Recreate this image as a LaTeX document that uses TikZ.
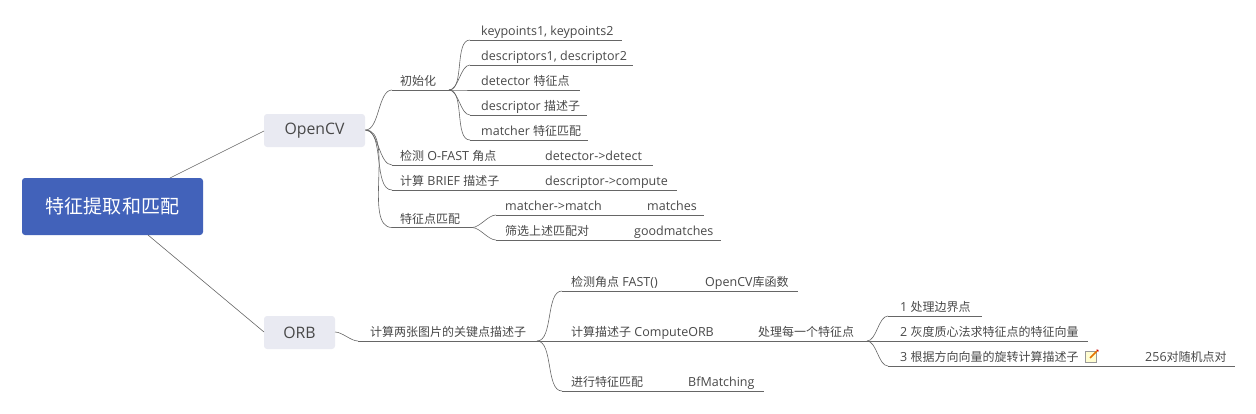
\documentclass[tikz,border=0pt]{standalone}
\usepackage{fontspec}
\setmainfont{Open Sans}
\newfontfamily\cjk[Scale=0.96]{Noto Sans CJK SC}
\newcommand{\C}[1]{{\cjk #1}}
\definecolor{rootblue}{HTML}{4262BA}
\definecolor{boxgrey}{HTML}{E9EAF2}
\definecolor{linegrey}{HTML}{666666}
\definecolor{textgrey}{HTML}{484848}
\tikzset{
  conn/.style={draw=linegrey,line width=.6pt},
  curved/.style={conn,out=0,in=180,looseness=.75},
  lbl/.style={anchor=base west,inner sep=0pt,text=textgrey,font=\fontsize{12.5}{14}\selectfont},
  rootbox/.style={fill=rootblue,rounded corners=3pt,text=white,inner sep=0pt,align=center,font=\fontsize{19.8}{23}\selectfont},
  mainbox/.style={fill=boxgrey,rounded corners=3pt,text=textgrey,inner sep=0pt,align=center,font=\fontsize{15.8}{18}\selectfont},
}
% name, line start x, line end x, line y, text x, text
\newcommand{\topic}[6]{%
  \coordinate (#1-s) at (#2,#4);
  \coordinate (#1-e) at (#3,#4);
  \node[lbl] (#1) at (#5,#4-4.5) {#6};
  \draw[conn] (#1-s) -- (#1-e);
}
\newcommand{\boxnode}[7]{%
  \node[#2,minimum width=#5-#3,minimum height=#6-#4] (#1) at ({(#3+#5)/2},{(#4+#6)/2}) {#7};
}
\begin{document}
\begin{tikzpicture}[x=1pt,y=-1pt]
\useasboundingbox (0,0) rectangle (1256,413);
\boxnode{root}{rootbox}{22}{178}{203}{235}{\raisebox{-1pt}{\C{特征提取和匹配}}}
\boxnode{opencv}{mainbox}{264}{114}{365}{147}{\raisebox{0pt}{OpenCV}}
\boxnode{orb}{mainbox}{264}{316}{335}{349}{ORB}
\coordinate (rootA) at (170,178);
\coordinate (rootB) at (148,235);
\coordinate (cvIn) at (264,131);
\coordinate (orbIn) at (264,332);
\coordinate (cvOut) at (365.5,130);
\coordinate (orbOut) at (335,332);
\draw[conn] (rootA) -- (cvIn);
\draw[conn] (rootB) -- (orbIn);

\topic{init}{392}{449}{90}{400}{\C{初始化}}
\topic{k}{470}{622}{40}{481}{keypoints1, keypoints2}
\topic{d}{470}{633}{65}{481}{descriptors1, descriptor2}
\topic{det}{470}{580}{90}{481}{detector \C{特征点}}
\topic{des}{470}{587}{115}{481}{descriptor \C{描述子}}
\topic{mat}{470}{588}{140}{481}{matcher \C{特征匹配}}
\topic{fast}{392}{653}{165}{400}{\C{检测} O-FAST \C{角点}}
\node[lbl] (fast2) at (545,160.5) {detector->detect};
\topic{brief}{392}{677}{190}{400}{\C{计算} BRIEF \C{描述子}}
\node[lbl] (brief2) at (545,185.5) {descriptor->compute};
\topic{fm}{392}{472}{227.5}{400}{\C{特征点匹配}}
\topic{mm}{496}{704}{215}{505}{matcher->match}
\node[lbl] (mm2) at (647,210.5) {matches};
\topic{gm}{496}{721}{240}{505}{\C{筛选上述匹配对}}
\node[lbl] (gm2) at (634,235.5) {goodmatches};

\foreach \t in {init,fast,brief,fm} \draw[curved] (cvOut) to (\t-s);
\foreach \t in {k,d,det,des,mat} \draw[curved] (init-e) to (\t-s);
\foreach \t in {mm,gm} \draw[curved] (fm-e) to (\t-s);

\topic{two}{358}{537}{341}{370}{\C{计算两张图片的关键点描述子}}
\draw[curved] (orbOut) to (two-s);
\topic{f}{562}{798}{291}{571}{\C{检测角点} FAST()}
\node[lbl] (f2) at (705,286.5) {OpenCV\C{库函数}};
\topic{c}{537}{867}{341}{571}{\C{计算描述子} ComputeORB}
\node[lbl] (c2) at (758,336.5) {\C{处理每一个特征点}};
\topic{b}{562}{764}{391}{571}{\C{进行特征匹配}}
\node[lbl] (b2) at (688,386.5) {BfMatching};
\draw[curved] (two-e) to (f-s);
\draw[curved] (two-e) to (b-s);
\topic{p1}{888}{982}{316}{900}{1 \C{处理边界点}}
\topic{p2}{867}{1088}{341}{900}{2 \C{灰度质心法求特征点的特征向量}}
\topic{p3}{888}{1235}{366}{900}{3 \C{根据方向向量的旋转计算描述子}}
\node[lbl] (p32) at (1145,361.5) {256\C{对随机点对}};
\draw[curved] (c-e) to (p1-s);
\draw[curved] (c-e) to (p3-s);

% note icon
\draw[draw=black!40,fill=yellow!18,line width=.5pt] (1085.5,351) rectangle (1096.5,362);
\draw[draw=orange!90!black,line width=1.6pt] (1090,358) -- (1097,351);
\fill[red!80!black] (1096.3,349.6) -- (1098.6,349.8) -- (1098.2,352) -- cycle;
\end{tikzpicture}
\end{document}
